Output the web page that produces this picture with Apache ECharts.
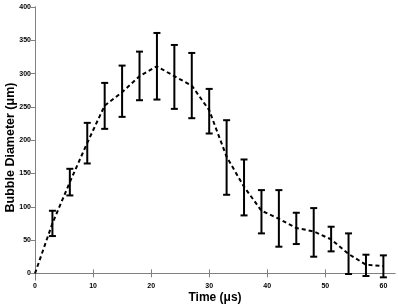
<!DOCTYPE html>
<html>
<head>
<meta charset="utf-8">
<script src="https://cdn.jsdelivr.net/npm/echarts@6/dist/echarts.min.js"></script>
<style>
html, body { margin: 0; padding: 0; background: #fff; }
#chart { width: 398px; height: 308px; }
</style>
</head>
<body>
<div id="chart"></div>
<script>
// time (us), mean bubble diameter (um), error bar ends
var times = [0, 3, 6, 9, 12, 15, 18, 21, 24, 27, 30, 33, 36, 39, 42, 45, 48, 51, 54, 57, 60];
var diameters = [0, 75, 137, 196, 252, 272, 296, 311, 296, 282, 245, 175, 130, 94, 82, 68, 63, 51, 29, 13, 11];
var upper = [null, 94, 157, 226, 286, 312, 333, 361, 343, 331, 277, 230, 171, 125, 125, 91, 98, 70, 60, 28, 27];
var lower = [null, 56, 117, 165, 217, 235, 260, 261, 247, 233, 210, 118, 87, 60, 40, 44, 25, 33, -1, -4, -6];
var xTicks = [0, 10, 20, 30, 40, 50, 60];
var yTicks = [0, 50, 100, 150, 200, 250, 300, 350, 400];

var chart = echarts.init(document.getElementById('chart'));

var lineData = [];
var barData = [];
for (var i = 0; i < times.length; i++) {
  lineData.push([times[i], diameters[i]]);
  if (upper[i] != null) barData.push([times[i], lower[i], upper[i]]);
}

var axisColor = '#808080';
var fontFam = 'Liberation Sans, Arial, sans-serif';
var labelFont = { color: '#000', fontSize: 7, fontWeight: 'bold', fontFamily: fontFam };

var option = {
  animation: false,
  backgroundColor: '#fff',
  grid: { left: 35, right: 3, top: 7, bottom: 28, containLabel: false, outerBoundsMode: 'none' },
  xAxis: [{
    type: 'value', min: 0, max: 62,
    name: 'Time (\u03bcs)', nameLocation: 'middle', nameGap: 12, nameMoveOverlap: false,
    nameTextStyle: { color: '#000', fontSize: 12, fontWeight: 'bold', fontFamily: fontFam },
    axisLine: { show: true, lineStyle: { color: axisColor, width: 1 } },
    axisTick: { show: true, inside: true, length: 4, customValues: xTicks, lineStyle: { color: axisColor } },
    axisLabel: Object.assign({ margin: 3, customValues: xTicks }, labelFont),
    splitLine: { show: false }
  }, {
    type: 'value', min: 0, max: 62, position: 'top',
    axisLine: { show: true, lineStyle: { color: axisColor, width: 1 } },
    axisTick: { show: true, inside: true, length: 4, customValues: xTicks, lineStyle: { color: axisColor } },
    axisLabel: { show: false },
    splitLine: { show: false }
  }],
  yAxis: [{
    type: 'value', min: -10, max: 400,
    name: 'Bubble Diameter (\u03bcm)', nameLocation: 'middle', nameGap: 18, nameMoveOverlap: false,
    nameTextStyle: { color: '#000', fontSize: 12.5, fontWeight: 'bold', fontFamily: fontFam, padding: [0, 8, 0, 0] },
    axisLine: { show: true, lineStyle: { color: axisColor, width: 1 } },
    axisTick: { show: true, inside: false, length: 3, customValues: yTicks, lineStyle: { color: axisColor } },
    axisLabel: Object.assign({ margin: 4, customValues: yTicks }, labelFont),
    splitLine: { show: false }
  }, {
    type: 'value', min: -10, max: 400, position: 'right',
    axisLine: { show: true, lineStyle: { color: axisColor, width: 1 } },
    axisTick: { show: true, inside: true, length: 4, customValues: yTicks, lineStyle: { color: axisColor } },
    axisLabel: { show: false },
    splitLine: { show: false }
  }],
  series: [{
    type: 'line',
    data: lineData,
    symbol: 'none',
    lineStyle: { color: '#000', width: 2, type: [4, 3] },
    z: 3
  }, {
    type: 'custom',
    data: barData,
    clip: false,
    renderItem: function (params, api) {
      var lo = api.coord([api.value(0), api.value(1)]);
      var hi = api.coord([api.value(0), api.value(2)]);
      var hw = 3.5;
      var style = { stroke: '#000', lineWidth: 2, fill: null };
      return {
        type: 'group',
        children: [
          { type: 'line', shape: { x1: lo[0], y1: lo[1], x2: hi[0], y2: hi[1] }, style: style },
          { type: 'line', shape: { x1: hi[0] - hw, y1: hi[1], x2: hi[0] + hw, y2: hi[1] }, style: style },
          { type: 'line', shape: { x1: lo[0] - hw, y1: lo[1], x2: lo[0] + hw, y2: lo[1] }, style: style }
        ]
      };
    },
    z: 4
  }]
};

chart.setOption(option);
</script>
</body>
</html>
